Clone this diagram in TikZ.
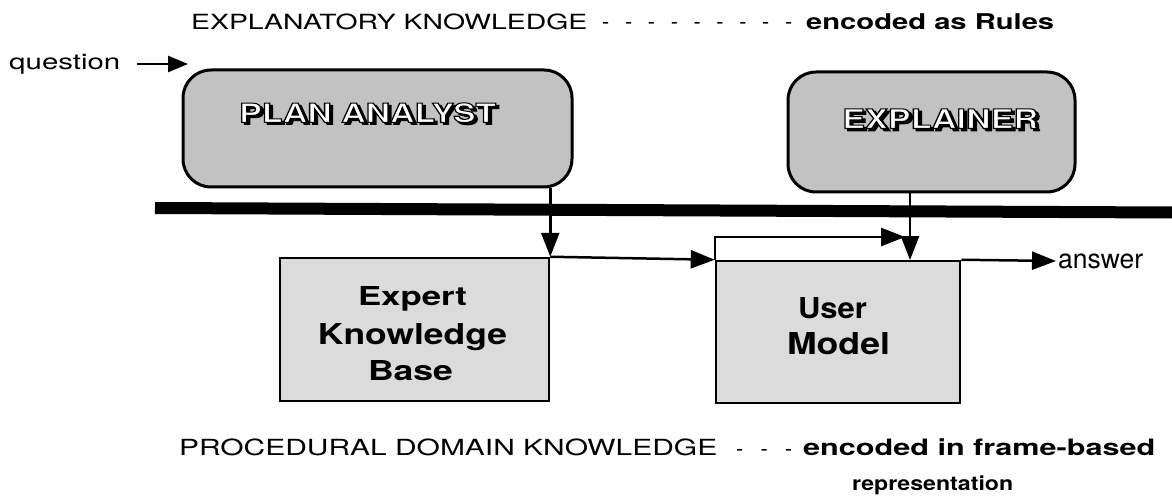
\documentclass[tikz,border=0pt]{standalone}
\usepackage{fontspec}
\setmainfont{TeX Gyre Heros}
\usepackage{graphicx}
\usetikzlibrary{arrows.meta}
\newcommand\fb[3]{\resizebox*{#1pt}{#2pt}{#3}}
\newcommand\fh[3]{\resizebox{#1pt}{#2pt}{#3}}
\newcommand\outl[1]{\rlap{\kern2.2pt\raisebox{-2.2pt}{\special{pdf:literal direct 2 Tr 1 w}#1\special{pdf:literal direct 0 Tr}}}\textcolor{white}{\special{pdf:literal direct 2 Tr 1 w 0 G}#1\special{pdf:literal direct 0 Tr}}}
\begin{document}
\begin{tikzpicture}[x=1pt,y=-1pt,
  arr/.style={line width=2.5pt,-{Triangle[length=24pt,width=18pt]}},
  sarr/.style={line width=2.5pt,-{Triangle[length=20pt,width=16pt]}},
  rbox/.style={draw,line width=3pt,rounded corners=28pt,fill=black!24},
  sbox/.style={draw,line width=2.5pt,fill=black!14},
  txt/.style={inner sep=0pt,anchor=south west},
  lbl/.style={inner sep=0pt,anchor=base,font=\bfseries\fontsize{26}{30}\selectfont}]
\useasboundingbox (0,0) rectangle (1172,497);
% boxes
\node[rbox,minimum width=389pt,minimum height=117pt] (plan) at (377.5,128.5) {};
\node[rbox,minimum width=287pt,minimum height=120pt] (expl) at (931.5,132) {};
\node[sbox,minimum width=269pt,minimum height=143pt] (kb) at (414.5,329.5) {};
\node[sbox,minimum width=244pt,minimum height=142pt] (um) at (838,332) {};
% box titles
\node[txt,font=\bfseries\fontsize{26}{30}\selectfont] (plantext) at (239,125) {\fb{257}{22}{\outl{PLAN ANALYST}}};
\node[txt,font=\bfseries\fontsize{26}{30}\selectfont] (expltext) at (842,131) {\fb{196}{22}{\outl{EXPLAINER}}};
\node[lbl] (kb1) at (412.5,305) {\fh{109}{19}{Expert}};
\node[lbl] (kb2) at (412.5,344) {\fh{189}{21}{Knowledge}};
\node[lbl] (kb3) at (410.5,380) {\fh{85}{20}{Base}};
\node[lbl] (um1) at (832.5,318) {\fh{69}{21}{User}};
\node[lbl] (um2) at (838.5,354) {\fh{103}{22}{Model}};
% top texts
\node[txt,font=\fontsize{22}{26}\selectfont] (t1) at (191,30) {\fb{396}{16}{EXPLANATORY KNOWLEDGE}};
\node[inner sep=0pt,anchor=base west,font=\fontsize{22}{26}\selectfont] (t2) at (602,30) {\fh{190}{7}{-\hspace{16pt}-\hspace{16pt}-\hspace{16pt}-\hspace{16pt}-\hspace{16pt}-\hspace{16pt}-\hspace{16pt}-\hspace{16pt}-}};
\node[txt,font=\bfseries\fontsize{22}{26}\selectfont] (t3) at (806,30) {\fb{248}{16}{encoded as Rules}};
\node[txt,font=\fontsize{22}{26}\selectfont] (q) at (9,74) {\fb{111}{20}{question}};
\node[txt,font=\fontsize{26}{30}\selectfont] (ans) at (1058,269) {\fb{85}{15}{answer}};
% bottom texts
\node[txt,font=\fontsize{23}{26}\selectfont] (b1) at (179,456) {\fb{538}{17}{PROCEDURAL DOMAIN KNOWLEDGE}};
\node[inner sep=0pt,anchor=base west,font=\fontsize{23}{26}\selectfont] (b2) at (736,456) {\fh{56}{7}{-\hspace{18pt}-\hspace{18pt}-}};
\node[txt,font=\bfseries\fontsize{23}{26}\selectfont] (b3) at (803,456) {\fb{352}{17}{encoded in frame-based}};
\node[txt,font=\bfseries\fontsize{21}{24}\selectfont] (b4) at (852,495) {\fb{161}{19}{representation}};
% thick divider
\coordinate (hl) at (155,208);
\coordinate (hr) at (1172,212.5);
\draw[line width=12pt] (hl) -- (hr);
% connectors
\coordinate (qtip) at (188,64);
\path (q.east) ++(17,0) coordinate (qtail);
\draw[sarr] (qtail |- qtip) -- (qtip);
\draw[arr] (plan.south -| kb.north east) -- (kb.north east);
\draw[arr] (kb.north east) -- (um.north west);
\coordinate (ut) at (905,237);
\draw[arr] (um.north west) |- (ut);
\coordinate (ej) at (910,260);
\draw[arr] (expl.south -| ej) -- (ej);
\coordinate (atip) at (1056,261);
\draw[arr] (um.north east) -- (atip);
\end{tikzpicture}
\end{document}
